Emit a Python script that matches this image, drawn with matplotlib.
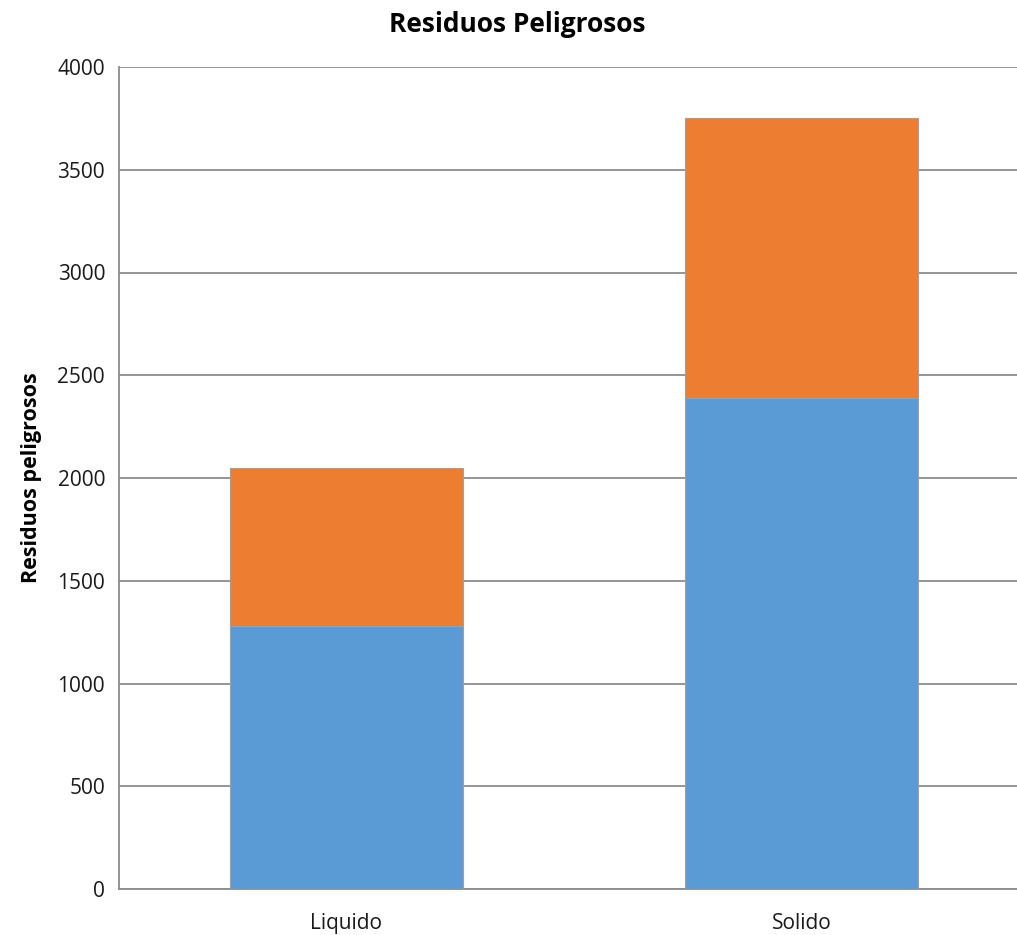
import matplotlib
matplotlib.use("Agg")
import matplotlib.pyplot as plt

categories = ["Liquido", "Solido"]
serie1 = [1280, 2390]
serie2 = [770, 1360]
yticks = [0, 500, 1000, 1500, 2000, 2500, 3000, 3500, 4000]

plt.rcParams['font.family'] = ['Open Sans', 'DejaVu Sans']

fig = plt.figure(figsize=(10.17, 9.35), dpi=100)
W, H = 1017, 935
left, right, top, bottom = 119, 1029, 67, 889
ax = fig.add_axes([left / W, 1 - bottom / H, (right - left) / W, (bottom - top) / H])

x = list(range(len(categories)))
ax.bar(x, serie1, width=0.512, color="#5B9BD5", edgecolor="#A0A0A0", linewidth=0.8, zorder=3)
ax.bar(x, serie2, width=0.512, bottom=serie1, color="#ED7D31", edgecolor="#A0A0A0", linewidth=0.8, zorder=3)

ax.set_xlim(-0.5, 1.5)
ax.set_ylim(0, 4000)
ax.set_yticks(yticks)
ax.set_xticks(x)
ax.set_xticklabels(categories)
ax.yaxis.grid(True, color="#8C8C8C", linewidth=1.3, zorder=0)
ax.set_axisbelow(True)
ax.tick_params(axis='both', length=0, labelsize=15, colors="#1A1A1A")
ax.tick_params(axis='y', pad=10)
ax.tick_params(axis='x', pad=17)
for s in ["top", "right"]:
    ax.spines[s].set_visible(False)
for s in ["left", "bottom"]:
    ax.spines[s].set_color("#8C8C8C")
    ax.spines[s].set_linewidth(1.3)

ax.set_ylabel("Residuos peligrosos", fontsize=15.5, fontweight="bold", labelpad=11)
fig.text(517 / W, 1 - 25 / H, "Residuos Peligrosos", ha="center", va="center", fontsize=19, fontweight="bold")

fig.savefig("out.png", dpi=100)
